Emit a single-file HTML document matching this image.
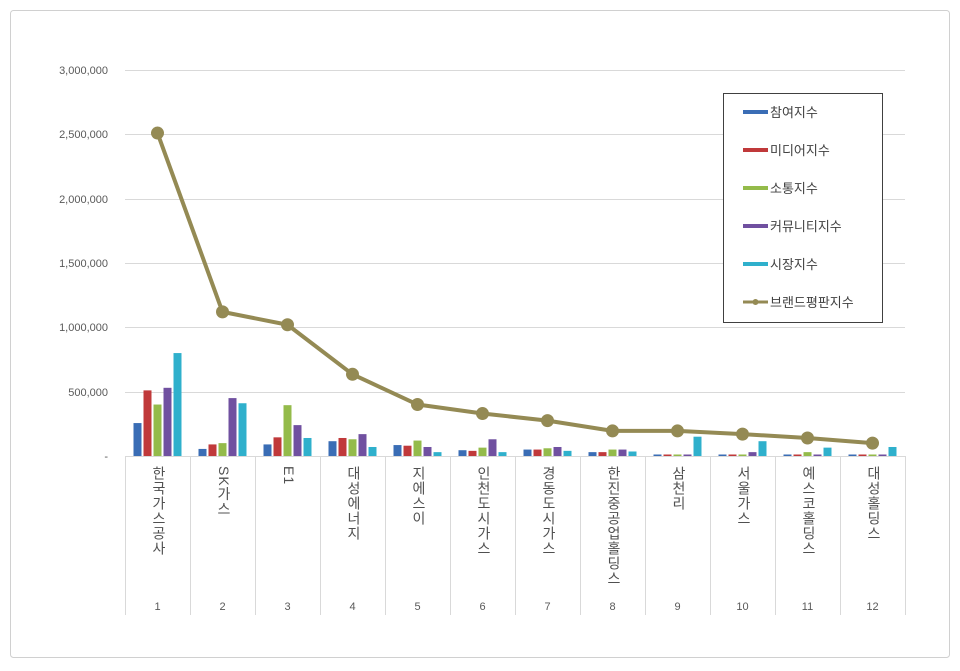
<!DOCTYPE html>
<html><head><meta charset="utf-8"><style>
body{margin:0;background:#fff;}
svg{display:block;font-family:"Liberation Sans","Noto Sans CJK KR",sans-serif;}
.cl{position:absolute;top:466px;writing-mode:vertical-rl;text-orientation:mixed;font-family:"Liberation Sans","Noto Sans CJK KR",sans-serif;font-size:14px;color:#505050;line-height:14px;width:16px;text-align:left;letter-spacing:1px;}
</style></head><body>
<div style="position:relative;width:960px;height:671px;">
<svg id="s" width="960" height="671" viewBox="0 0 960 671">
<rect x="10.5" y="10.5" width="939" height="647" rx="3" fill="#fff" stroke="#d0d0d0"/>
<g stroke="#d9d9d9" stroke-width="1">
<line x1="125" x2="905" y1="70.5" y2="70.5"/><line x1="125" x2="905" y1="134.5" y2="134.5"/>
<line x1="125" x2="905" y1="199.5" y2="199.5"/><line x1="125" x2="905" y1="263.5" y2="263.5"/>
<line x1="125" x2="905" y1="327.5" y2="327.5"/><line x1="125" x2="905" y1="392.5" y2="392.5"/>
<line x1="125" x2="905" y1="456.5" y2="456.5"/>
</g>
<g id="sep" stroke="#d9d9d9"></g>
<g font-size="11" fill="#595959" text-anchor="end">
<text x="108" y="74">3,000,000</text><text x="108" y="138">2,500,000</text>
<text x="108" y="203">2,000,000</text><text x="108" y="267">1,500,000</text>
<text x="108" y="331">1,000,000</text><text x="108" y="396">500,000</text>
<text x="108" y="460">-</text>
</g>
<g font-size="11" fill="#595959" text-anchor="middle">
<text x="157.5" y="610">1</text><text x="222.5" y="610">2</text><text x="287.5" y="610">3</text>
<text x="352.5" y="610">4</text><text x="417.5" y="610">5</text><text x="482.5" y="610">6</text>
<text x="547.5" y="610">7</text><text x="612.5" y="610">8</text><text x="677.5" y="610">9</text>
<text x="742.5" y="610">10</text><text x="807.5" y="610">11</text><text x="872.5" y="610">12</text>
</g>
<g id="bars"></g>
<g id="line"></g>
<rect x="723.5" y="93.5" width="159" height="229" fill="#fff" stroke="#404040"/>
<rect x="743" y="110" width="25" height="4" fill="#3a6db5"/>
<rect x="743" y="148" width="25" height="4" fill="#c0393a"/>
<rect x="743" y="186" width="25" height="4" fill="#94bb4a"/>
<rect x="743" y="224" width="25" height="4" fill="#7050a0"/>
<rect x="743" y="262" width="25" height="4" fill="#2fb0cc"/>
<line x1="743" x2="768" y1="302" y2="302" stroke="#948a54" stroke-width="3"/>
<circle cx="755.5" cy="302" r="3" fill="#948a54"/>
<g font-size="13" fill="#404040">
<text x="770" y="117">참여지수</text><text x="770" y="155">미디어지수</text>
<text x="770" y="193">소통지수</text><text x="770" y="231">커뮤니티지수</text>
<text x="770" y="269">시장지수</text><text x="770" y="307">브랜드평판지수</text>
</g>
</svg>
<div class="cl" style="left:150px">한국가스공사</div>
<div class="cl" style="left:215px">SK가스</div>
<div class="cl" style="left:280px">E1</div>
<div class="cl" style="left:345px">대성에너지</div>
<div class="cl" style="left:410px">지에스이</div>
<div class="cl" style="left:475px">인천도시가스</div>
<div class="cl" style="left:540px">경동도시가스</div>
<div class="cl" style="left:605px">한진중공업홀딩스</div>
<div class="cl" style="left:670px">삼천리</div>
<div class="cl" style="left:735px">서울가스</div>
<div class="cl" style="left:800px">예스코홀딩스</div>
<div class="cl" style="left:865px">대성홀딩스</div>
</div>
<script>
var NS="http://www.w3.org/2000/svg";
var d=[[256,510,400,530,800],[55,90,100,450,410],[90,145,395,240,140],[115,140,130,170,70],[85,80,120,70,30],[45,40,65,130,30],[50,50,60,70,40],[30,30,50,50,35],[5,10,10,10,150],[5,10,5,30,115],[10,10,30,5,65],[5,5,10,5,70]];
var L=[2510,1120,1020,635,400,330,275,195,195,170,140,100];
var col=["#3a6db5","#c0393a","#94bb4a","#7050a0","#2fb0cc"];
var sc=386/3000;
function el(t,a,p){var e=document.createElementNS(NS,t);for(var k in a)e.setAttribute(k,a[k]);document.getElementById(p).appendChild(e);}
for(var i=0;i<=12;i++){var x=125.5+i*65;el("line",{x1:x,x2:x,y1:456,y2:615},"sep");}
var pts=[];
for(var i=0;i<12;i++){var cx=157.5+i*65;
 for(var j=0;j<5;j++){var h=Math.max(1.5,d[i][j]*sc);el("rect",{x:cx-24+j*10,y:456-h,width:8,height:h,fill:col[j]},"bars");}
 pts.push(cx+","+(456-L[i]*sc));}
el("polyline",{points:pts.join(" "),fill:"none",stroke:"#948a54","stroke-width":4,"stroke-linejoin":"round"},"line");
pts.forEach(function(p){var a=p.split(",");el("circle",{cx:a[0],cy:a[1],r:6.5,fill:"#948a54"},"line");});
</script>
</body></html>
